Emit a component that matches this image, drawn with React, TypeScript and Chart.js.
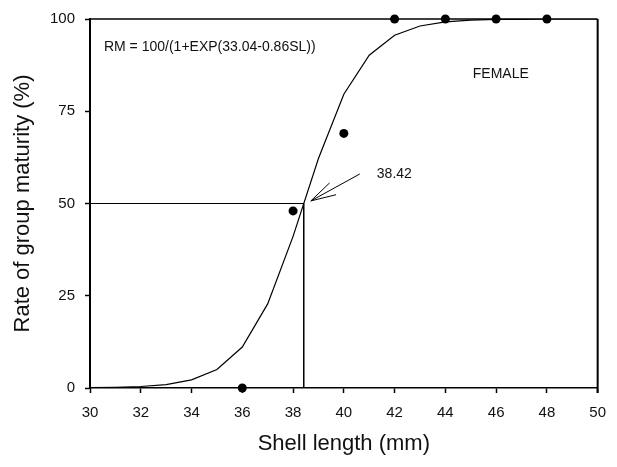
import React, { useEffect, useRef } from "react";
import { Chart, registerables } from "chart.js";

Chart.register(...registerables);

const curveX = [30, 31, 32, 33, 34, 35, 36, 37, 38, 39, 40, 41, 42, 43, 44, 45, 46, 47, 48, 49, 50];
const curveY = [0.1, 0.2, 0.4, 0.9, 2.2, 5.0, 11.1, 22.8, 41.1, 62.2, 79.6, 90.2, 95.6, 98.1, 99.2, 99.7, 99.9, 99.9, 100, 100, 100];
const obsX = [36, 38, 40, 42, 44, 46, 48];
const obsY = [0, 48, 69, 100, 100, 100, 100];
const l50 = 38.42;
const l50Rate = 50;
const xTicks = [30, 32, 34, 36, 38, 40, 42, 44, 46, 48, 50];
const yTicks = [0, 25, 50, 75, 100];

const FONT = "'Liberation Sans', Arial, sans-serif";

const annotPlugin = {
  id: "annot",
  afterDraw(chart: any) {
    const { ctx, chartArea, scales } = chart;
    const xs = scales.x;
    const ys = scales.y;
    ctx.save();
    // frame top and right
    ctx.strokeStyle = "#000";
    ctx.lineWidth = 1.5;
    ctx.beginPath();
    ctx.moveTo(chartArea.left, chartArea.top);
    ctx.lineTo(chartArea.right, chartArea.top);
    ctx.stroke();
    ctx.lineWidth = 2;
    ctx.beginPath();
    ctx.moveTo(chartArea.right, chartArea.top);
    ctx.lineTo(chartArea.right, chartArea.bottom + 5);
    ctx.stroke();

    ctx.fillStyle = "#111";
    ctx.font = `14px ${FONT}`;
    ctx.textBaseline = "middle";
    ctx.textAlign = "left";
    ctx.fillText("RM = 100/(1+EXP(33.04-0.86SL))", xs.getPixelForValue(30.55), ys.getPixelForValue(92.4));
    ctx.fillText("FEMALE", xs.getPixelForValue(45.08), ys.getPixelForValue(85.1));
    ctx.fillText(l50.toFixed(2), xs.getPixelForValue(41.3), ys.getPixelForValue(57.9));

    // arrow
    const sx = xs.getPixelForValue(40.63);
    const sy = ys.getPixelForValue(58.0);
    const tx = xs.getPixelForValue(38.7);
    const ty = ys.getPixelForValue(50.7);
    ctx.lineWidth = 1;
    ctx.beginPath();
    ctx.moveTo(sx, sy);
    ctx.lineTo(tx, ty);
    const ang = Math.atan2(sy - ty, sx - tx);
    const hl = 26;
    const spread = (15 * Math.PI) / 180;
    ctx.moveTo(tx, ty);
    ctx.lineTo(tx + hl * Math.cos(ang - spread), ty + hl * Math.sin(ang - spread));
    ctx.moveTo(tx, ty);
    ctx.lineTo(tx + hl * Math.cos(ang + spread), ty + hl * Math.sin(ang + spread));
    ctx.stroke();
    ctx.restore();
  },
};

export default function App() {
  const ref = useRef<HTMLCanvasElement>(null);
  useEffect(() => {
    if (!ref.current) return;
    const chart = new Chart(ref.current, {
      type: "line",
      data: {
        datasets: [
          {
            label: "fit",
            data: curveX.map((x, i) => ({ x, y: curveY[i] })),
            borderColor: "#000",
            borderWidth: 1.2,
            pointRadius: 0,
            tension: 0,
            fill: false,
          },
          {
            label: "L50",
            data: [
              { x: 30, y: l50Rate },
              { x: l50, y: l50Rate },
              { x: l50, y: 0 },
            ],
            borderColor: "#000",
            borderWidth: 1,
            pointRadius: 0,
            tension: 0,
            fill: false,
          },
          {
            label: "observed",
            data: obsX.map((x, i) => ({ x, y: obsY[i] })),
            showLine: false,
            pointRadius: 4.5,
            pointBackgroundColor: "#000",
            pointBorderColor: "#000",
            borderWidth: 0,
            clip: false as any,
          },
        ],
      },
      options: {
        responsive: false,
        animation: false,
        events: [],
        layout: { padding: { left: 0, top: 13, right: 19, bottom: 0 } },
        plugins: { legend: { display: false }, tooltip: { enabled: false } },
        scales: {
          x: {
            type: "linear",
            min: 30,
            max: 50,
            afterFit: (s: any) => {
              s.height = 79;
            },
            afterBuildTicks: (s: any) => {
              s.ticks = xTicks.map((v) => ({ value: v }));
            },
            grid: { drawOnChartArea: false, drawTicks: true, tickLength: 5, color: "#000", tickColor: "#000", tickWidth: 1.5 },
            border: { display: true, color: "#000", width: 1.5 },
            ticks: { color: "#111", font: { family: FONT, size: 15 }, padding: 11, maxRotation: 0 },
            title: { display: true, text: "Shell length (mm)", color: "#111", font: { family: FONT, size: 22 }, padding: { top: 0, bottom: 10 } },
          },
          y: {
            type: "linear",
            min: 0,
            max: 100,
            afterFit: (s: any) => {
              s.width = 90;
            },
            afterBuildTicks: (s: any) => {
              s.ticks = yTicks.map((v) => ({ value: v }));
            },
            grid: { drawOnChartArea: false, drawTicks: true, tickLength: 5, color: "#000", tickColor: "#000", tickWidth: 1.5 },
            border: { display: true, color: "#000", width: 2 },
            ticks: { color: "#111", font: { family: FONT, size: 15 }, padding: 10 },
            title: { display: true, text: "Rate of group maturity (%)", color: "#111", font: { family: FONT, size: 22 }, padding: { top: 10, bottom: 0 } },
          },
        },
      },
      plugins: [annotPlugin],
    });
    return () => chart.destroy();
  }, []);
  return (
    <div style={{ position: "absolute", left: 0, top: 0, width: 617, height: 467, background: "#fff" }}>
      <canvas ref={ref} width={617} height={467} />
    </div>
  );
}
